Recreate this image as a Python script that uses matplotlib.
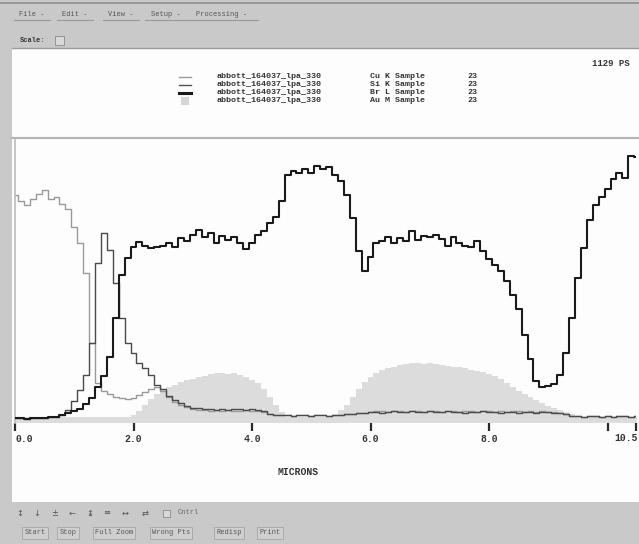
"""
Line-scan profile (microns) of four X-ray maps, drawn like the old
acquisition window it was captured from.
"""

import numpy as np
import matplotlib.pyplot as plt
from matplotlib.patches import Rectangle
from matplotlib.lines import Line2D

# distance along the scan, microns (one sample every 0.1 um)
microns = np.round(np.arange(0, 106) * 0.1, 1)

# counts
cu_k = [228, 222, 218, 224, 229, 233, 224, 226, 219, 214,
        196, 180, 150, 80, 40, 32, 29, 26, 25, 24,
        25, 28, 31, 34, 36, 32, 26, 21, 18, 16,
        14, 13, 13, 12, 13, 12, 13, 12, 12, 13,
        12, 12, 11, 9, 8, 8, 8, 7, 8, 8,
        7, 8, 8, 7, 8, 8, 9, 9, 10, 10,
        11, 12, 12, 11, 12, 12, 11, 12, 12, 11,
        12, 12, 11, 12, 12, 11, 12, 12, 11, 12,
        12, 11, 12, 11, 12, 12, 11, 12, 11, 12,
        11, 11, 10, 9, 7, 7, 6, 7, 7, 6,
        7, 6, 7, 7, 6, 7]
si_k = [5, 5, 4, 5, 5, 5, 6, 6, 8, 13,
        22, 33, 48, 80, 160, 190, 173, 140, 105, 80,
        70, 60, 55, 48, 38, 34, 27, 23, 20, 17,
        15, 15, 14, 14, 13, 14, 13, 14, 14, 13,
        14, 13, 12, 9, 8, 8, 8, 7, 8, 8,
        7, 8, 8, 7, 8, 8, 9, 9, 10, 10,
        11, 11, 10, 11, 12, 11, 11, 12, 11, 11,
        12, 11, 11, 12, 11, 11, 10, 11, 11, 12,
        11, 11, 10, 11, 11, 10, 11, 11, 10, 11,
        11, 10, 10, 9, 7, 7, 6, 7, 7, 6,
        7, 6, 7, 7, 6, 7]
br_l = [5, 5, 4, 5, 5, 5, 6, 6, 8, 10,
        12, 14, 19, 25, 36, 47, 66, 105, 148, 165,
        176, 181, 177, 175, 176, 177, 180, 176, 185, 182,
        188, 193, 186, 190, 180, 187, 183, 186, 180, 174,
        180, 188, 192, 200, 206, 222, 248, 252, 250, 254,
        250, 257, 254, 256, 248, 242, 228, 205, 172, 152,
        166, 180, 182, 186, 180, 185, 182, 192, 183, 187,
        186, 188, 184, 177, 186, 180, 177, 176, 182, 172,
        164, 158, 152, 142, 128, 114, 88, 64, 42, 36,
        37, 39, 48, 70, 105, 145, 175, 203, 218, 226,
        234, 244, 250, 245, 267, 266]
au_m = [6, 6, 6, 6, 6, 6, 6, 6, 6, 6,
        6, 6, 6, 6, 6, 6, 6, 6, 6, 6,
        8, 12, 18, 24, 29, 33, 36, 38, 41, 43,
        44, 46, 47, 49, 50, 50, 49, 50, 48, 46,
        43, 40, 34, 26, 18, 11, 6, 6, 6, 6,
        6, 6, 6, 6, 8, 13, 18, 26, 34, 41,
        46, 50, 53, 55, 56, 58, 59, 60, 60, 59,
        60, 59, 58, 57, 56, 56, 55, 53, 52, 51,
        49, 47, 44, 40, 36, 32, 29, 26, 23, 20,
        17, 15, 13, 11, 9, 6, 6, 6, 6, 6,
        6, 6, 6, 6, 6, 6]

sample_name = "abbott_164037_lpa_330"
elements = ["Cu K", "Si K", "Br L", "Au M"]
sample_no = "23"
tick_vals = [0, 2, 4, 6, 8, 10, 10.48]
tick_text = ["0.0", "2.0", "4.0", "6.0", "8.0", "", ""]
end_label = "10.5"
menus = ["File", "Edit", "View", "Setup", "Processing"]
buttons = ["Start", "Stop", "Full Zoom", "Wrong Pts", "Redisp", "Print"]

W, H = 639, 544
GREY = '#c9c9c9'
MONO = 'Liberation Mono'


def fx(x):
    return x / W


def fy(y):
    return 1 - y / H


def hline(fig, x0, x1, y, color, lw):
    fig.add_artist(Line2D([fx(x0), fx(x1)], [fy(y), fy(y)], color=color, lw=lw))


fig = plt.figure(figsize=(W / 100, H / 100), dpi=100, facecolor=GREY)

# white drawing panel (behind the axes)
fig.patches.append(Rectangle((fx(12), fy(502)), (W - 12) / W, (502 - 49) / H,
                             transform=fig.transFigure, facecolor='#fdfdfd',
                             edgecolor='none', zorder=-5))
hline(fig, 0, W, 3, '#8f8f8f', 1.2)
hline(fig, 12, W, 48, '#9a9a9a', 1.0)
hline(fig, 12, W, 138, '#b4b4b4', 1.5)

# menu bar
menu_x = [32, 75, 121, 166, 222]
for name, cx in zip(menus, menu_x):
    fig.text(fx(cx), fy(15), name + " -", ha='center', va='center', fontsize=5,
             family=MONO, color='#555555')
    fig.add_artist(Line2D([fx(cx - 3 * len(name) - 6), fx(cx + 3 * len(name) + 6)],
                          [fy(20), fy(20)], color='#9a9a9a', lw=0.8))
fig.text(fx(20), fy(41), "Scale:", ha='left', va='center', fontsize=5,
         family=MONO, weight='bold', color='#333333')
fig.patches.append(Rectangle((fx(55), fy(45)), 9 / W, 9 / H, transform=fig.transFigure,
                             facecolor='#d8d8d8', edgecolor='#8a8a8a', lw=0.6))

# bottom toolbar
icons = ['↕', '↓', '±', '←', '↨', '≡', '↔', '⇄']
icon_x = [20, 37, 55, 72, 90, 107, 125, 145]
for g, cx in zip(icons, icon_x):
    fig.text(fx(cx), fy(513), g, ha='center', va='center', fontsize=6, color='#555555')
fig.patches.append(Rectangle((fx(163), fy(517)), 7 / W, 7 / H, transform=fig.transFigure,
                             facecolor='#d8d8d8', edgecolor='#8a8a8a', lw=0.6))
fig.text(fx(178), fy(513), "Cntrl", ha='left', va='center', fontsize=5,
         family=MONO, color='#666666')
btn_x = [35, 68, 114, 171, 229, 270]
for name, cx in zip(buttons, btn_x):
    fig.text(fx(cx), fy(533), name, ha='center', va='center', fontsize=5,
             family=MONO, color='#555555',
             bbox=dict(boxstyle='square,pad=0.3', fc='#cfcfcf', ec='#a5a5a5', lw=0.6))

# legend block
leg_y = [76.5, 84.5, 92.5, 100.5]
styles = [('#9a9a9a', 1.0), ('#505050', 1.0), ('#1a1a1a', 2.2)]
for i in range(4):
    y = leg_y[i]
    if i < 3:
        col, lw = styles[i]
        fig.add_artist(Line2D([fx(179), fx(191)], [fy(y), fy(y)], color=col, lw=lw))
    else:
        fig.patches.append(Rectangle((fx(181), fy(y + 4)), 8 / W, 8 / H,
                                     transform=fig.transFigure, facecolor='#d6d6d6',
                                     edgecolor='none'))
    fig.text(fx(217), fy(y), sample_name, ha='left', va='center', fontsize=6,
             family=MONO, weight='bold', color='#333333')
    fig.text(fx(370), fy(y), elements[i] + " Sample", ha='left', va='center',
             fontsize=6, family=MONO, weight='bold', color='#333333')
    fig.text(fx(467), fy(y), sample_no, ha='left', va='center', fontsize=6,
             family=MONO, weight='bold', color='#333333')
fig.text(fx(630), fy(63), "1129 PS", ha='right', va='center', fontsize=6.5,
         family=MONO, weight='bold', color='#333333')

# the profile itself
ax = fig.add_axes([fx(15), fy(423), (636 - 15) / W, (423 - 138) / H])
ax.set_facecolor('none')
ax.fill_between(microns, 0, au_m, step='mid', color='#dcdcdc', lw=0, zorder=1)
ax.plot(microns, cu_k, drawstyle='steps-mid', color='#9a9a9a', lw=1.0, zorder=2)
ax.plot(microns, si_k, drawstyle='steps-mid', color='#4a4a4a', lw=1.0, zorder=3)
ax.plot(microns, br_l, drawstyle='steps-mid', color='#1a1a1a', lw=1.5, zorder=4)
ax.set_xlim(0, 10.48)
ax.set_ylim(0, 285)
ax.set_yticks([])
for s in ['top', 'right', 'bottom']:
    ax.spines[s].set_visible(False)
ax.spines['left'].set_color('#bcbcbc')
ax.spines['left'].set_linewidth(1.2)
ax.set_xticks(tick_vals)
ax.set_xticklabels(tick_text)
ax.tick_params(axis='x', direction='out', length=6, width=1.6, color='#2a2a2a',
               pad=2, labelsize=7, labelcolor='#333333')
for lbl in ax.get_xticklabels():
    lbl.set_fontfamily(MONO)
    lbl.set_fontweight('bold')
ax.get_xticklabels()[0].set_horizontalalignment('left')
fig.text(fx(638), fy(438), end_label, ha='right', va='center', fontsize=7,
         family=MONO, weight='bold', color='#333333')
fig.text(fx(298), fy(472), "MICRONS", ha='center', va='center', fontsize=7,
         family=MONO, weight='bold', color='#333333')

# grey strip on the far left keeps the panel edge clean
strip = fig.add_axes([0, fy(502), fx(12), (502 - 49) / H])
strip.set_facecolor(GREY)
strip.set_xticks([])
strip.set_yticks([])
for s in strip.spines.values():
    s.set_visible(False)

fig.savefig('out.png', dpi=100, facecolor=GREY)
